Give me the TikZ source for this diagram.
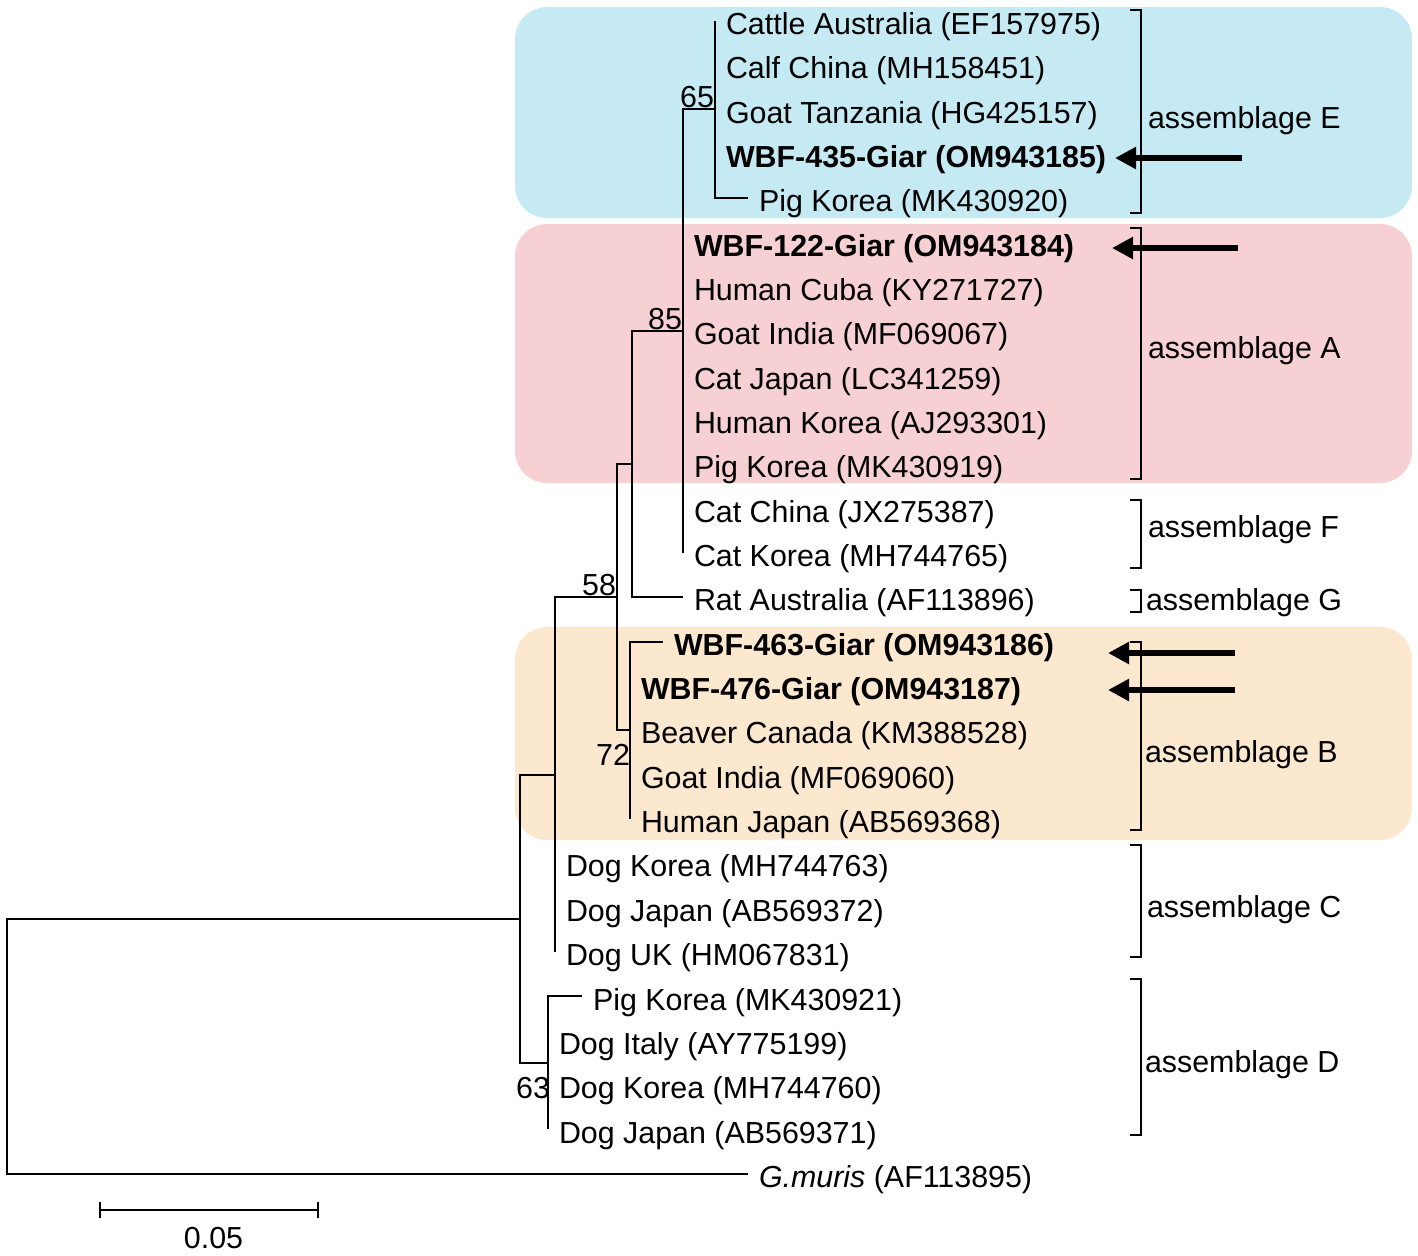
\documentclass[tikz,border=0pt]{standalone}
\usepackage{fontspec}
\setmainfont{Liberation Sans}
\usetikzlibrary{arrows.meta}

\definecolor{cladeE}{RGB}{198,234,243}
\definecolor{cladeA}{RGB}{246,208,211}
\definecolor{cladeB}{RGB}{251,232,207}

\begin{document}
\begin{tikzpicture}[x=0.5pt,y=-0.5pt,line width=1pt,
  leaf node/.style={anchor=west,inner xsep=5pt,inner ysep=0pt,text height=13.7pt,text depth=0pt,
    font=\fontsize{15.2}{18}\selectfont},
  bold node/.style={leaf node,font=\fontsize{15.2}{18}\selectfont\bfseries},
  boot node/.style={inner sep=0pt,font=\fontsize{15.2}{18}\selectfont},
  group node/.style={anchor=west,inner sep=0pt,font=\fontsize{15.2}{18}\selectfont},
  branch/.style={to path={|- (\tikztotarget)}},
  pointer/.style={line width=3.3pt,-{Triangle[length=10.5pt,width=10.5pt]}},
  bracket/.style={line width=0.9pt}]
  \useasboundingbox (0,0) rectangle (1418,1255);

  % shaded assemblages
  \fill[cladeE,rounded corners=16pt] (515,7) rectangle (1412,218);
  \fill[cladeA,rounded corners=16pt] (515,224) rectangle (1412,483);
  \fill[cladeB,rounded corners=16pt] (515,627) rectangle (1412,840);

  % leaves
  \node[leaf node] (cattle) at (715,20.6) {Cattle Australia (EF157975)};
  \node[leaf node] (calf) at (715,64.95) {Calf China (MH158451)};
  \node[leaf node] (goattz) at (715,109.3) {Goat Tanzania (HG425157)};
  \node[bold node] (wbf435) at (715,153.65) {WBF-435-Giar (OM943185)};
  \node[leaf node] (pigkr1) at (748,198) {Pig Korea (MK430920)};
  \node[bold node] (wbf122) at (683,242.35) {WBF-122-Giar (OM943184)};
  \node[leaf node] (humancu) at (683,286.7) {Human Cuba (KY271727)};
  \node[leaf node] (goatin1) at (683,331.05) {Goat India (MF069067)};
  \node[leaf node] (catjp) at (683,375.4) {Cat Japan (LC341259)};
  \node[leaf node] (humankr) at (683,419.75) {Human Korea (AJ293301)};
  \node[leaf node] (pigkr2) at (683,464.1) {Pig Korea (MK430919)};
  \node[leaf node] (catcn) at (683,508.45) {Cat China (JX275387)};
  \node[leaf node] (catkr) at (683,552.8) {Cat Korea (MH744765)};
  \node[leaf node] (rat) at (683,597.15) {Rat Australia (AF113896)};
  \node[bold node] (wbf463) at (663,641.5) {WBF-463-Giar (OM943186)};
  \node[bold node] (wbf476) at (630,685.85) {WBF-476-Giar (OM943187)};
  \node[leaf node] (beaver) at (630,730.2) {Beaver Canada (KM388528)};
  \node[leaf node] (goatin2) at (630,774.55) {Goat India (MF069060)};
  \node[leaf node] (humanjp) at (630,818.9) {Human Japan (AB569368)};
  \node[leaf node] (dogkr1) at (555,863.25) {Dog Korea (MH744763)};
  \node[leaf node] (dogjp1) at (555,907.6) {Dog Japan (AB569372)};
  \node[leaf node] (doguk) at (555,951.95) {Dog UK (HM067831)};
  \node[leaf node] (pigkr3) at (582,996.3) {Pig Korea (MK430921)};
  \node[leaf node] (dogit) at (548,1040.65) {Dog Italy (AY775199)};
  \node[leaf node] (dogkr2) at (548,1085) {Dog Korea (MH744760)};
  \node[leaf node] (dogjp2) at (548,1129.35) {Dog Japan (AB569371)};
  \node[leaf node] (gmuris) at (748,1173.7) {\itshape G.muris\upshape{} (AF113895)};

  % inner nodes
  \coordinate (root) at (7,1046.2);
  \coordinate (n1) at (520,918.7);
  \coordinate (n2) at (555,774.55);
  \coordinate (nD) at (548,1062.8);
  \coordinate (n58) at (617,597.15);
  \coordinate (nAFG) at (632,464.1);
  \coordinate (n72) at (630,730.2);
  \coordinate (n85) at (683,331.05);
  \coordinate (n65) at (715,109.3);

  \path[every edge/.append style={branch}]
    (root) edge (n1) edge (gmuris)
    (n1) edge (n2) edge (nD)
    (n2) edge (n58) edge (dogkr1) edge (dogjp1) edge (doguk)
    (n58) edge (nAFG) edge (n72)
    (nAFG) edge (n85) edge (rat)
    (n85) edge (n65) edge (wbf122) edge (humancu) edge (goatin1) edge (catjp)
      edge (humankr) edge (pigkr2) edge (catcn) edge (catkr)
    (n65) edge (cattle) edge (calf) edge (goattz) edge (wbf435) edge (pigkr1)
    (n72) edge (wbf463) edge (wbf476) edge (beaver) edge (goatin2) edge (humanjp)
    (nD) edge (pigkr3) edge (dogit) edge (dogkr2) edge (dogjp2);

  % bootstrap values
  \node[boot node,anchor=base east,yshift=1pt] (b65) at (n65) {65};
  \node[boot node,anchor=base east,yshift=1pt] (b85) at (n85) {85};
  \node[boot node,anchor=base east,yshift=1pt] (b58) at (n58) {58};
  \node[boot node,anchor=east] (b72) at (631,755) {72};
  \node[boot node,anchor=east] (b63) at (551,1088) {63};

  % assemblage brackets
  \draw[bracket] (1130,10) -- (1141,10) -- (1141,213) -- (1130,213);
  \node[group node] (grpE) at (1147,121) {assemblage E};
  \draw[bracket] (1130,228) -- (1141,228) -- (1141,479) -- (1130,479);
  \node[group node] (grpA) at (1147,351) {assemblage A};
  \draw[bracket] (1130,500) -- (1141,500) -- (1141,568) -- (1130,568);
  \node[group node] (grpF) at (1147,530) {assemblage F};
  \draw[bracket] (1130,590) -- (1141,590) -- (1141,612) -- (1130,612);
  \node[group node] (grpG) at (1145,603) {assemblage G};
  \draw[bracket] (1130,642) -- (1141,642) -- (1141,830) -- (1130,830);
  \node[group node] (grpB) at (1144,755) {assemblage B};
  \draw[bracket] (1130,845) -- (1141,845) -- (1141,957) -- (1130,957);
  \node[group node] (grpC) at (1146,910) {assemblage C};
  \draw[bracket] (1130,979) -- (1141,979) -- (1141,1135) -- (1130,1135);
  \node[group node] (grpD) at (1144,1065) {assemblage D};

  % arrows to the new isolates
  \coordinate (t435) at (1242,158); \coordinate (h435) at (1115,158);
  \coordinate (t122) at (1238,248); \coordinate (h122) at (1112,248);
  \coordinate (t463) at (1235,653); \coordinate (h463) at (1108,653);
  \coordinate (t476) at (1235,690); \coordinate (h476) at (1108,690);
  \draw[pointer] (t435) -- (h435);
  \draw[pointer] (t122) -- (h122);
  \draw[pointer] (t463) -- (h463);
  \draw[pointer] (t476) -- (h476);

  % scale bar
  \coordinate (barL) at (100,1210); \coordinate (barR) at (318,1210);
  \draw (barL) -- (barR);
  \draw ([yshift=4pt]barL) -- ([yshift=-4pt]barL);
  \draw ([yshift=4pt]barR) -- ([yshift=-4pt]barR);
  \node[boot node] (scale) at (213.5,1238) {0.05};
\end{tikzpicture}
\end{document}
